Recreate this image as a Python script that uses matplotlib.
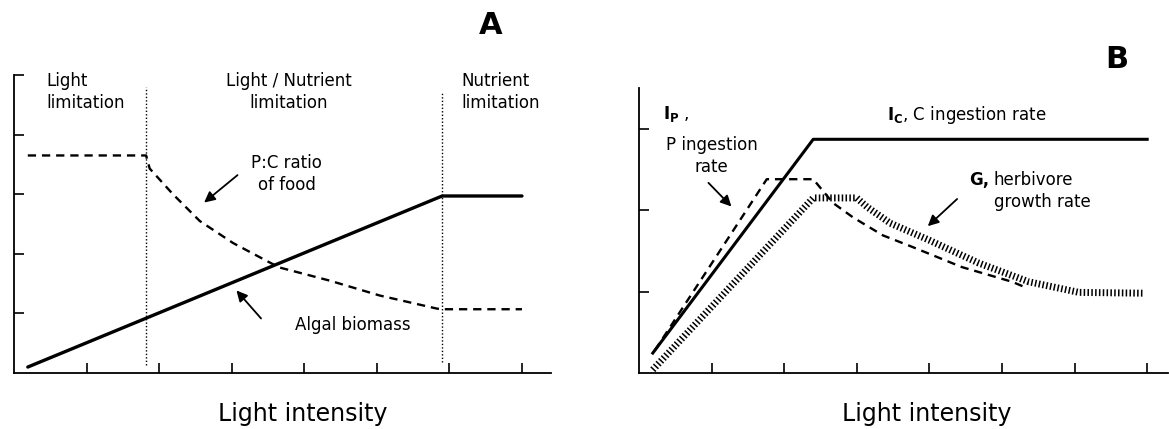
import matplotlib
matplotlib.use("Agg")
import matplotlib.pyplot as plt

plt.rcParams['font.family'] = ['DejaVu Sans']
plt.rcParams['mathtext.fontset'] = 'dejavusans'

# ---------------- Panel A data ----------------
algae_x = [0.19, 5.9, 7.0]
algae_y = [0.10, 2.97, 2.97]

pc_x = [0.19, 1.82, 1.87, 2.19, 2.56, 3.02, 3.53, 3.66, 4.35, 5.04, 5.83, 5.9, 7.0]
pc_y = [3.65, 3.65, 3.43, 3.00, 2.55, 2.18, 1.85, 1.77, 1.55, 1.30, 1.08, 1.07, 1.07]

limit_x = [1.82, 5.9]
limit_ylo = [0.13, 0.18]
limit_yhi = [4.80, 4.72]

region_labels = ["Light\nlimitation", "Light / Nutrient\nlimitation", "Nutrient\nlimitation"]

# ---------------- Panel B data ----------------
ic_x = [0.19, 2.4, 7.0]
ic_y = [0.245, 2.87, 2.87]

ip_x = [0.22, 1.76, 2.4, 2.67, 2.95, 3.36, 3.76, 4.45, 5.14, 5.3]
ip_y = [0.28, 2.38, 2.38, 2.09, 1.91, 1.69, 1.55, 1.30, 1.12, 1.06]

g_x = [0.19, 2.4, 3.0, 3.14, 3.46, 4.0, 4.68, 5.37, 6.06, 6.96]
g_y = [0.04, 2.15, 2.15, 2.04, 1.84, 1.63, 1.35, 1.12, 0.99, 0.98]

xticks = [1, 2, 3, 4, 5, 6, 7]
yticks_a = [1, 2, 3, 4, 5]
yticks_b = [1, 2, 3]

W, H = 1169, 429
fig = plt.figure(figsize=(W / 100, H / 100), dpi=100)

axA = fig.add_axes([14 / W, (H - 373) / H, 537 / W, 298 / H])
axB = fig.add_axes([639 / W, (H - 373) / H, 528.5 / W, 285 / H])

for ax in (axA, axB):
    for s in ('top', 'right'):
        ax.spines[s].set_visible(False)
    for s in ('left', 'bottom'):
        ax.spines[s].set_linewidth(1.3)
    ax.tick_params(direction='in', length=7, width=1.2, labelleft=False, labelbottom=False)
    ax.set_xticks(xticks)

axA.set_xlim(0, 7.4)
axA.set_ylim(0, 5)
axA.set_yticks(yticks_a)
axB.set_xlim(0, 7.28)
axB.set_ylim(0, 3.5)
axB.set_yticks(yticks_b)

# ---------------- Panel A ----------------
for x, lo, hi in zip(limit_x, limit_ylo, limit_yhi):
    axA.plot([x, x], [lo, hi], color='k', lw=1.0, linestyle=(0, (1, 1.5)))

axA.plot(algae_x, algae_y, color='k', lw=2.4, solid_capstyle='round')
axA.plot(pc_x, pc_y, color='k', lw=1.7, linestyle=(0, (3.5, 2.5)))

fs = 12
axA.text(0.45, 5.05, region_labels[0], ha='left', va='top', fontsize=fs,
         linespacing=1.3, clip_on=False)
axA.text(3.79, 5.05, region_labels[1], ha='center', va='top', fontsize=fs,
         linespacing=1.3, multialignment='center', clip_on=False)
axA.text(6.17, 5.05, region_labels[2], ha='left', va='top', fontsize=fs,
         linespacing=1.3, clip_on=False)

axA.text(3.76, 3.68, "P:C ratio\nof food", ha='center', va='top', fontsize=fs,
         linespacing=1.3, multialignment='center')
axA.annotate("", xy=(2.59, 2.83), xytext=(3.11, 3.35),
             arrowprops=dict(arrowstyle='-|>', color='k', lw=1.3, mutation_scale=16))

axA.text(3.87, 0.95, "Algal biomass", ha='left', va='top', fontsize=fs)
axA.annotate("", xy=(3.04, 1.42), xytext=(3.43, 0.88),
             arrowprops=dict(arrowstyle='-|>', color='k', lw=1.3, mutation_scale=16))

# ---------------- Panel B ----------------
axB.plot(ic_x, ic_y, color='k', lw=2.2)
axB.plot(ip_x, ip_y, color='k', lw=1.7, linestyle=(0, (3.5, 2.5)))
axB.plot(g_x, g_y, color='k', lw=5, linestyle=(0, (0.22, 0.33)),
         dash_capstyle='butt', solid_capstyle='butt')

axB.text(0.33, 3.3, r"$\mathbf{I}_\mathbf{P}$ ,", ha='left', va='top', fontsize=fs)
axB.text(1.0, 2.91, "P ingestion\nrate", ha='center', va='top', fontsize=fs,
         linespacing=1.3, multialignment='center')
axB.annotate("", xy=(1.3, 2.02), xytext=(0.93, 2.36),
             arrowprops=dict(arrowstyle='-|>', color='k', lw=1.3, mutation_scale=16))

axB.text(3.42, 3.3, r"$\mathbf{I}_\mathbf{C}$, C ingestion rate", ha='left', va='top', fontsize=fs)

axB.text(4.55, 2.48, "G,", ha='left', va='top', fontsize=fs, fontweight='bold')
axB.text(4.89, 2.48, "herbivore\ngrowth rate", ha='left', va='top', fontsize=fs,
         linespacing=1.3)
axB.annotate("", xy=(3.95, 1.78), xytext=(4.41, 2.16),
             arrowprops=dict(arrowstyle='-|>', color='k', lw=1.3, mutation_scale=16))

# axis labels
for ax, xc, h in ((axA, (303 - 14) / 537, 298), (axB, (927 - 639) / 528.5, 285)):
    ax.set_xlabel("Light intensity", fontsize=17)
    ax.xaxis.set_label_coords(xc, -(402 - 373) / h)

# panel letters
fig.text(491 / W, 1 - 25 / H, "A", ha='center', va='center', fontsize=22, fontweight='bold')
fig.text(1117 / W, 1 - 60 / H, "B", ha='center', va='center', fontsize=22, fontweight='bold')

fig.savefig("out.png", dpi=100)
